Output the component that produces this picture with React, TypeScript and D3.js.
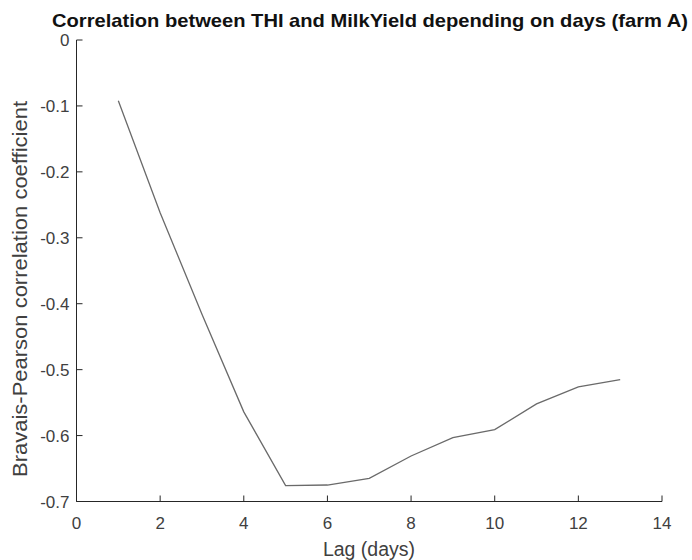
import React from "react";
import * as d3 from "d3";

const lags = [1, 2, 3, 4, 5, 6, 7, 8, 9, 10, 11, 12, 13];
const corr = [-0.092, -0.262, -0.416, -0.564, -0.676, -0.675, -0.665, -0.631, -0.603, -0.591, -0.552, -0.526, -0.515];
const xTicks = [0, 2, 4, 6, 8, 10, 12, 14];
const yTicks = [0, -0.1, -0.2, -0.3, -0.4, -0.5, -0.6, -0.7];

const W = 692;
const H = 560;
const left = 76.5;
const right = 662;
const top = 40;
const bottom = 501.5;

export default function App() {
  const x = d3.scaleLinear().domain([0, 14]).range([left, right]);
  const y = d3.scaleLinear().domain([-0.7, 0]).range([bottom, top]);
  const line = d3
    .line<number>()
    .x((_, i) => x(lags[i]))
    .y((d) => y(d));
  const font = "'Liberation Sans', Arial, sans-serif";
  const axisColor = "#262626";
  return (
    <svg
      width={W}
      height={H}
      style={{ position: "absolute", left: 0, top: 0, background: "#fff" }}
      fontFamily={font}
    >
      <rect x={0} y={0} width={W} height={H} fill="#fff" />
      <path d={line(corr) || ""} fill="none" stroke="#6a6a6a" strokeWidth={1.3} />
      <line x1={left} x2={right} y1={bottom} y2={bottom} stroke={axisColor} strokeWidth={1} />
      <line x1={left} x2={left} y1={top} y2={bottom} stroke={axisColor} strokeWidth={1} />
      {xTicks.map((t) => (
        <g key={"x" + t}>
          <line x1={x(t)} x2={x(t)} y1={bottom} y2={bottom - 6} stroke={axisColor} strokeWidth={1} />
          <text x={x(t)} y={529} textAnchor="middle" fontSize={17} fill="#404040">
            {t}
          </text>
        </g>
      ))}
      {yTicks.map((t) => (
        <g key={"y" + t}>
          <line x1={left} x2={left + 6} y1={y(t)} y2={y(t)} stroke={axisColor} strokeWidth={1} />
          <text x={left - 7} y={y(t) + 6} textAnchor="end" fontSize={17} fill="#404040">
            {t === 0 ? "0" : t.toFixed(1)}
          </text>
        </g>
      ))}
      <text x={369} y={556} textAnchor="middle" fontSize={19.5} fill="#404040">
        Lag (days)
      </text>
      <text
        transform={`translate(27,289) rotate(-90)`}
        textAnchor="middle"
        fontSize={20}
        fill="#404040"
        textLength={376}
        lengthAdjust="spacingAndGlyphs"
      >
        Bravais-Pearson correlation coefficient
      </text>
      <text
        x={370}
        y={27}
        textAnchor="middle"
        fontSize={19}
        fontWeight="bold"
        fill="#111"
        textLength={636}
        lengthAdjust="spacingAndGlyphs"
      >
        Correlation between THI and MilkYield depending on days (farm A)
      </text>
    </svg>
  );
}
